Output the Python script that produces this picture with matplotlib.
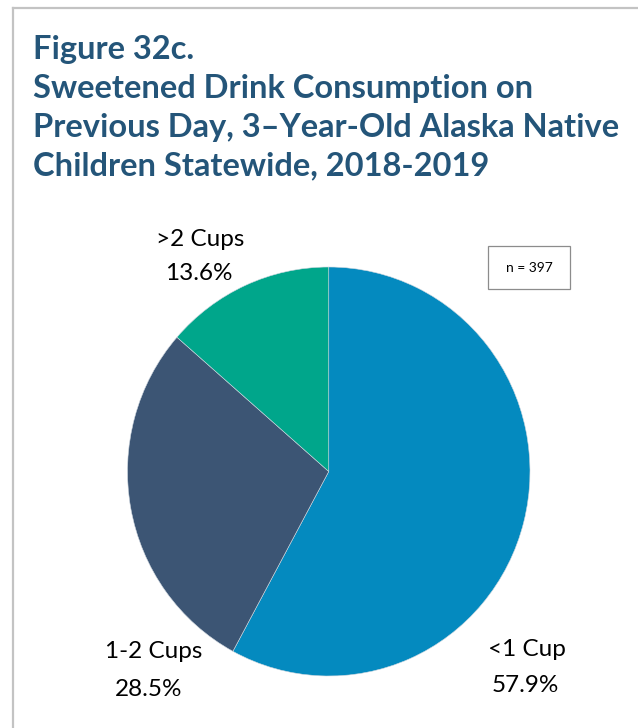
import matplotlib.pyplot as plt
from matplotlib.patches import Rectangle
from matplotlib.lines import Line2D

labels = ['<1 Cup', '1-2 Cups', '>2 Cups']
shares = [57.9, 28.5, 13.6]
colors = ['#048abf', '#3c5574', '#00a68b']
title_lines = ['Figure 32c.',
               'Sweetened Drink Consumption on',
               'Previous Day, 3\u2013Year-Old Alaska Native',
               'Children Statewide, 2018-2019']
sample_note = 'n = 397'

W, H = 638, 728
fig = plt.figure(figsize=(W / 100, H / 100), dpi=100)
fig.patch.set_facecolor('white')


def px(x, y):
    # pixel position (from top-left) to figure fraction
    return x / W, 1 - y / H


# frame lines on top and left
fig.add_artist(Line2D([12.5 / W, 1], [1 - 7.5 / H] * 2, color='#c3c3c3', lw=1.6,
                      transform=fig.transFigure))
fig.add_artist(Line2D([12.5 / W] * 2, [0, 1 - 7.5 / H], color='#c3c3c3', lw=1.6,
                      transform=fig.transFigure))

# title
for i, line in enumerate(title_lines):
    x, y = px(33, 59.5 + 38.6 * i)
    fig.text(x, y, line, fontsize=23.5, fontweight='bold', family='Lato',
             color='#245579', ha='left', va='baseline')

# pie
left, top, right, bottom = 127.5, 267, 530, 676
ax = fig.add_axes([left / W, 1 - bottom / H, (right - left) / W, (bottom - top) / H])
ax.pie(shares, colors=colors, startangle=90, counterclock=False,
       wedgeprops=dict(linewidth=0.4, edgecolor='#d0d8e0'))
ax.set_aspect('auto')
ax.set_xlim(-1, 1)
ax.set_ylim(-1, 1)
ax.axis('off')

# slice labels: (name x, name y, value x, value y)
label_pos = {'<1 Cup': (527, 649, 525, 686),
             '1-2 Cups': (154, 651, 149, 689),
             '>2 Cups': (200, 240, 199, 273)}
for lab, val in zip(labels, shares):
    nx, ny, vx, vy = label_pos[lab]
    fig.text(*px(nx, ny), lab, fontsize=17.5, family='Lato', color='black',
             ha='center', va='center')
    fig.text(*px(vx, vy), f'{val:.1f}%', fontsize=17.5, family='Lato', color='black',
             ha='center', va='center')

# sample size box
bx0, by0, bx1, by1 = 488, 246, 570, 289
fig.add_artist(Rectangle(px(bx0, by1), (bx1 - bx0) / W, (by1 - by0) / H,
                         transform=fig.transFigure, facecolor='white',
                         edgecolor='#8c8c8c', lw=0.9))
fig.text(*px((bx0 + bx1) / 2, (by0 + by1) / 2), sample_note, fontsize=10,
         family='Lato', ha='center', va='center')

fig.savefig('out.png', dpi=100, facecolor='white')
